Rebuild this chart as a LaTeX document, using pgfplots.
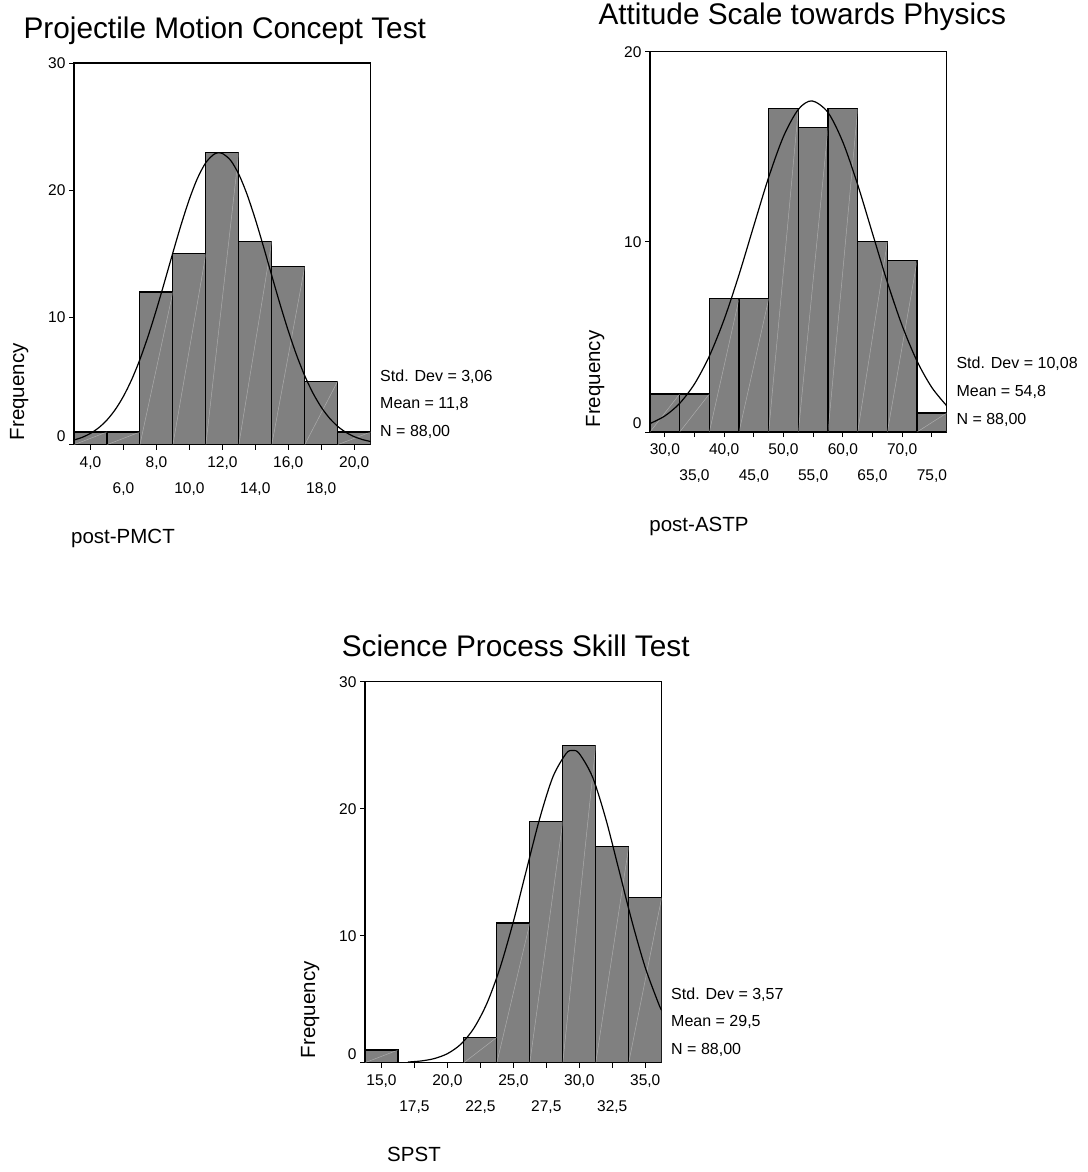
\documentclass[border=0pt]{standalone}
\usepackage{fontspec}
\setmainfont{Liberation Sans}
\usepackage{pgfplots}
\pgfplotsset{compat=1.18}
\definecolor{barfill}{RGB}{128,128,128}
\pgfplotsset{
  spss/.style={
    scale only axis, anchor=south west,
    width=296.7pt,
    axis line style={line width=1.1pt},
    tick align=outside, tick pos=left,
    major tick length=5pt,
    tick style={black, line width=1pt},
    tick label style={font=\fontsize{15.5}{18}\selectfont},
    xticklabel style={anchor=base, yshift=-17.5pt},
    extra x tick style={tick label style={yshift=-26pt}},
    extra y ticks={0}, extra y tick labels={0},
    extra y tick style={tick label style={yshift=8.5pt}},
  },
  bars/.style={ybar interval, fill=barfill, draw=black, line width=1.1pt},
  diag/.style={white, opacity=0.35, line width=0.5pt, unbounded coords=jump, forget plot},
  curve/.style={black, line width=1.2pt, smooth, tension=0.5},
}
\newcommand{\statfont}{\fontsize{16}{19}\selectfont}
\newcommand{\labfont}{\fontsize{20.5}{24}\selectfont}
\newcommand{\titfont}{\fontsize{29.8}{35}\selectfont}
\begin{document}
\begin{tikzpicture}
\path[use as bounding box] (0,0) rectangle (1087pt,-1172pt);

% ---------------- Chart 1 ----------------
\begin{axis}[spss, at={(74pt,-444.7pt)}, height=381.7pt,
  xmin=3, xmax=21, ymin=0, ymax=30,
  ytick={10,20,30}, yticklabels={10,20,30},
  xtick={4,8,12,16,20}, xticklabels={{4,0},{8,0},{12,0},{16,0},{20,0}},
  extra x ticks={6,10,14,18}, extra x tick labels={{6,0},{10,0},{14,0},{18,0}},
]
\addplot[bars] coordinates {(3,1)(5,1)(7,12)(9,15)(11,23)(13,16)(15,14)(17,5)(19,1)(21,1)};
\addplot[diag] coordinates {(3,0)(5,1)(5,nan)(5,0)(7,1)(7,nan)(7,0)(9,12)(9,nan)(9,0)(11,15)(11,nan)(11,0)(13,23)(13,nan)(13,0)(15,16)(15,nan)(15,0)(17,14)(17,nan)(17,0)(19,5)(19,nan)(19,0)(21,1)};
\addplot[curve] coordinates {
(3,0.367)(3.5,0.580)(4,0.891)(4.5,1.333)(5,1.942)(5.5,2.756)(6,3.806)(6.5,5.120)
(7,6.705)(7.5,8.550)(8,10.613)(8.5,12.829)(9,15.099)(9.5,17.299)(10,19.300)
(10.5,20.966)(11,22.175)(11.5,22.836)(11.8,22.946)(12,22.897)(12.5,22.354)
(13,21.248)(13.5,19.665)(14,17.719)(14.5,15.548)(15,13.281)(15.5,11.046)
(16,8.947)(16.5,7.054)(17,5.415)(17.5,4.048)(18,2.946)(18.5,2.088)(19,1.440)
(19.5,0.968)(20,0.633)(20.5,0.403)(21,0.250)};
\end{axis}
\node[font=\titfont, anchor=base west] at (20pt,-38.3pt) {Projectile Motion Concept Test};
\node[font=\labfont, rotate=90, anchor=base west] at (24pt,-443.7pt) {Frequency};
\node[font=\statfont, anchor=base west] at (376.7pt,-381.4pt) {Std. Dev = 3,06};
\node[font=\statfont, anchor=base west] at (376.7pt,-408.9pt) {Mean = 11,8};
\node[font=\statfont, anchor=base west] at (376.7pt,-436.9pt) {N = 88,00};
\node[font=\labfont, anchor=base] at (123pt,-543.7pt) {post-PMCT};

% ---------------- Chart 2 ----------------
\begin{axis}[spss, at={(650pt,-432pt)}, height=380.3pt,
  xmin=27.5, xmax=77.5, ymin=0, ymax=20,
  ytick={10,20}, yticklabels={10,20},
  xtick={30,40,50,60,70}, xticklabels={{30,0},{40,0},{50,0},{60,0},{70,0}},
  extra x ticks={35,45,55,65,75}, extra x tick labels={{35,0},{45,0},{55,0},{65,0},{75,0}},
]
\addplot[bars] coordinates {(27.5,2)(32.5,2)(37.5,7)(42.5,7)(47.5,17)(52.5,16)(57.5,17)(62.5,10)(67.5,9)(72.5,1)(77.5,1)};
\addplot[diag] coordinates {(27.5,0)(32.5,2)(32.5,nan)(32.5,0)(37.5,2)(37.5,nan)(37.5,0)(42.5,7)(42.5,nan)(42.5,0)(47.5,7)(47.5,nan)(47.5,0)(52.5,17)(52.5,nan)(52.5,0)(57.5,16)(57.5,nan)(57.5,0)(62.5,17)(62.5,nan)(62.5,0)(67.5,10)(67.5,nan)(67.5,0)(72.5,9)(72.5,nan)(72.5,0)(77.5,1)};
\addplot[curve] coordinates {
(27.5,0.445)(30,0.844)(32.5,1.507)(35,2.530)(37.5,3.993)(40,5.926)(42.5,8.272)
(45,10.856)(47.5,13.398)(50,15.547)(52.5,16.967)(54.8,17.414)(57.5,16.800)
(60,15.245)(62.5,13.006)(65,10.436)(67.5,7.875)(70,5.587)(72.5,3.727)
(75,2.338)(77.5,1.379)};
\end{axis}
\node[font=\titfont, anchor=base west] at (595pt,-25pt) {Attitude Scale towards Physics};
\node[font=\labfont, rotate=90, anchor=base west] at (600pt,-431pt) {Frequency};
\node[font=\statfont, anchor=base west] at (953pt,-368.7pt) {Std. Dev = 10,08};
\node[font=\statfont, anchor=base west] at (953pt,-396.2pt) {Mean = 54,8};
\node[font=\statfont, anchor=base west] at (953pt,-424.2pt) {N = 88,00};
\node[font=\labfont, anchor=base] at (699pt,-531pt) {post-ASTP};

% ---------------- Chart 3 ----------------
\begin{axis}[spss, at={(365pt,-1062.7pt)}, height=381pt,
  xmin=13.75, xmax=36.25, ymin=0, ymax=30,
  ytick={10,20,30}, yticklabels={10,20,30},
  xtick={15,20,25,30,35}, xticklabels={{15,0},{20,0},{25,0},{30,0},{35,0}},
  extra x ticks={17.5,22.5,27.5,32.5}, extra x tick labels={{17,5},{22,5},{27,5},{32,5}},
]
\addplot[bars] coordinates {(13.75,1)(16.25,0)(18.75,0)(21.25,2)(23.75,11)(26.25,19)(28.75,25)(31.25,17)(33.75,13)(36.25,13)};
\addplot[diag] coordinates {(13.75,0)(16.25,1)(16.25,nan)(21.25,0)(23.75,2)(23.75,nan)(23.75,0)(26.25,11)(26.25,nan)(26.25,0)(28.75,19)(28.75,nan)(28.75,0)(31.25,25)(31.25,nan)(31.25,0)(33.75,17)(33.75,nan)(33.75,0)(36.25,13)};
\addplot[curve] coordinates {
(17,0.054)(18,0.137)(19,0.325)(20,0.713)(21,1.444)(22,2.706)(23,4.686)(24,7.503)
(25,11.110)(26,15.204)(27,19.238)(28,22.508)(29,24.344)(29.5,24.585)(30,24.344)
(31,22.508)(32,19.238)(33,15.204)(34,11.110)(35,7.503)(36,4.686)(36.25,4.115)};
\end{axis}
\node[font=\titfont, anchor=base west] at (338.3pt,-656pt) {Science Process Skill Test};
\node[font=\labfont, rotate=90, anchor=base west] at (315pt,-1061.7pt) {Frequency};
\node[font=\statfont, anchor=base west] at (667.7pt,-999.4pt) {Std. Dev = 3,57};
\node[font=\statfont, anchor=base west] at (667.7pt,-1026.9pt) {Mean = 29,5};
\node[font=\statfont, anchor=base west] at (667.7pt,-1054.9pt) {N = 88,00};
\node[font=\labfont, anchor=base] at (414pt,-1161.7pt) {SPST};
\end{tikzpicture}
\end{document}
